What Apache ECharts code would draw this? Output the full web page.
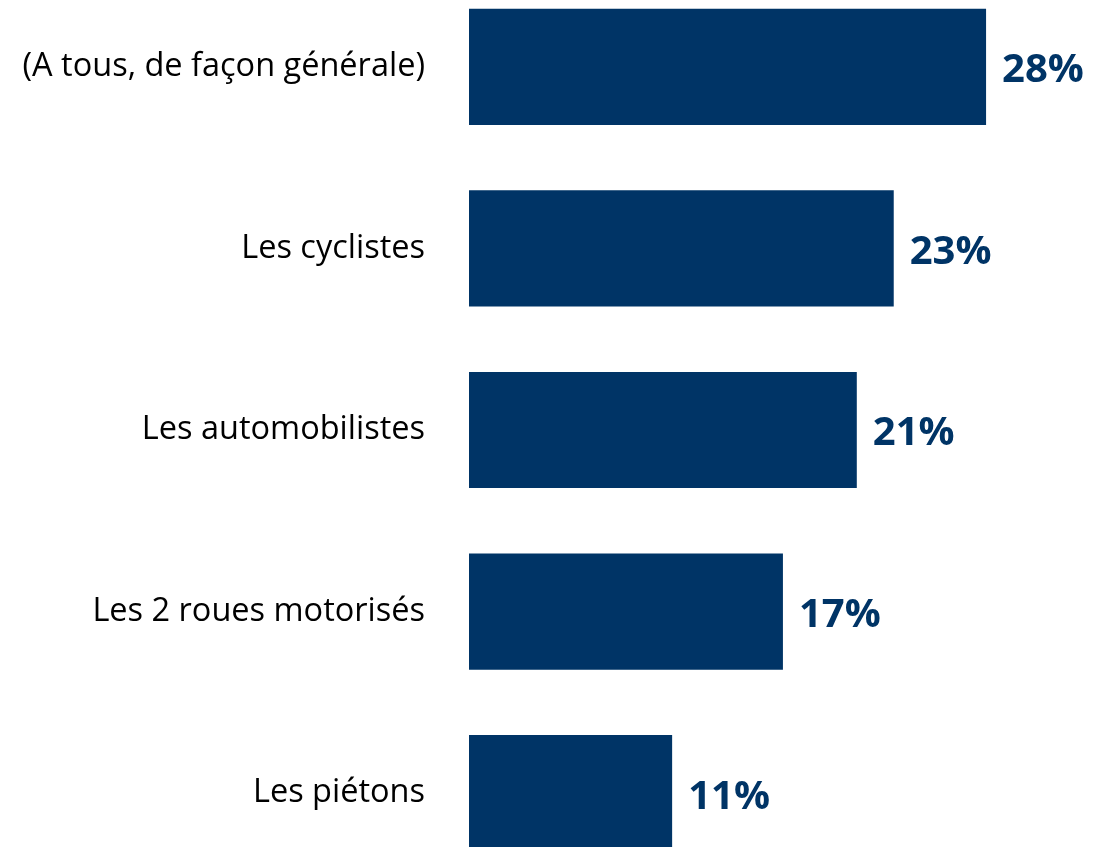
<!DOCTYPE html>
<html>
<head>
<meta charset="utf-8">
<script src="https://cdn.jsdelivr.net/npm/echarts@6/dist/echarts.min.js"></script>
<style>html,body{margin:0;padding:0;background:#fff;overflow:hidden;width:1094px;height:847px;}#chart{position:absolute;left:0;top:-24px;width:1094px;height:908px;}</style>
</head>
<body>
<div id="chart"></div>
<script>
var categories = ["(A tous, de façon générale)", "Les cyclistes", "Les automobilistes", "Les 2 roues motorisés", "Les piétons"];
var values = [28, 23, 21, 17, 11];

var chart = echarts.init(document.getElementById('chart'));
chart.setOption({
  animation: false,
  grid: { left: 469, right: 71, top: 0, bottom: 0, containLabel: false },
  xAxis: { type: 'value', min: 0, max: 30, show: false },
  yAxis: {
    type: 'category', data: categories, inverse: true,
    axisLine: { show: false }, axisTick: { show: false },
    axisLabel: { margin: 44, fontSize: 32.5, color: '#000', fontFamily: 'Open Sans', padding: [8, 0, 0, 0] }
  },
  series: [{
    type: 'bar', data: values, barCategoryGap: '36%',
    itemStyle: { color: '#003466' },
    label: { show: true, position: 'right', distance: 16, offset: [0, 4], formatter: '{c}%', fontSize: 40, fontWeight: 'bold', color: '#003466', fontFamily: 'Open Sans' }
  }]
});
</script>
</body>
</html>
